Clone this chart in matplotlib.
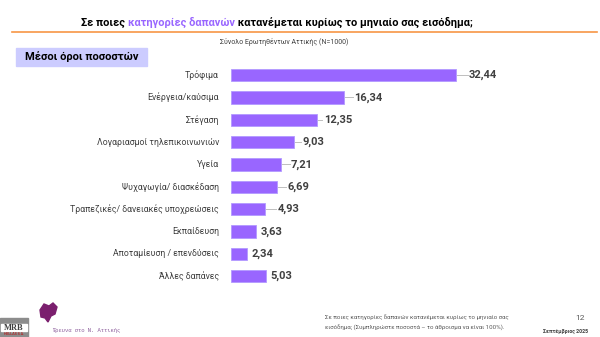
import matplotlib
matplotlib.use("Agg")
import matplotlib.pyplot as plt
from matplotlib.patches import Rectangle, Polygon

plt.rcParams['font.family'] = ['Roboto', 'DejaVu Sans']

categories = ['Τρόφιμα', 'Ενέργεια/καύσιμα', 'Στέγαση', 'Λογαριασμοί τηλεπικοινωνιών',
              'Υγεία', 'Ψυχαγωγία/ διασκέδαση', 'Τραπεζικές/ δανειακές υποχρεώσεις',
              'Εκπαίδευση', 'Αποταμίευση / επενδύσεις', 'Άλλες δαπάνες']
values = [32.44, 16.34, 12.35, 9.03, 7.21, 6.69, 4.93, 3.63, 2.34, 5.03]

# gap (px) between bar end and its label, as placed in the original slide
label_gap = [13, 10, 7, 9, 10, 10, 12, 4, 4, 4]

W, H = 600, 337
fig = plt.figure(figsize=(6, 3.37), dpi=100)

def fx(px):
    return px / W

def fy(py):
    return 1 - py / H

PURPLE = '#9966ff'
DARK = '#404040'

# bars
ax = fig.add_axes([fx(231), fy(287.3), fx(347), (287.3 - 64.0) / H])
y = list(range(len(values)))
ax.barh(y, values, height=0.55, color=PURPLE, edgecolor='#b399ff', linewidth=0.6)
ax.set_xlim(0, 50)
ax.set_ylim(len(values) - 0.5, -0.5)
ax.axis('off')

px_per_unit = 347 / 50
for i, v in enumerate(values):
    gap = label_gap[i] / px_per_unit
    ax.text(v + gap, i, f'{v:.2f}'.replace('.', ','), va='center', ha='left',
            fontsize=8, fontweight='bold', color=DARK)
    if label_gap[i] > 5:
        ax.plot([v + 0.15, v + gap - 0.2], [i, i], color='#bfbfbf', lw=0.7)
    ax.text(-12 / px_per_unit, i, categories[i], va='center', ha='right',
            fontsize=6.3, color=DARK)

# title in three colour runs
parts = [('Σε ποιες ', 'black'), ('κατηγορίες δαπανών', '#9966ff'),
         (' κατανέμεται κυρίως το μηνιαίο σας εισόδημα;', 'black')]
fig.canvas.draw()
r = fig.canvas.get_renderer()
x0 = fx(81)
for txt, col in parts:
    t = fig.text(x0, fy(22.7), txt, color=col, fontsize=7.95, fontweight='bold',
                 va='center', ha='left')
    bb = t.get_window_extent(renderer=r)
    x0 += bb.width / W
fig.add_artist(plt.Line2D([fx(12), fx(597)], [fy(32), fy(32)], color='#f79646', lw=1.2))

fig.text(fx(284.5), fy(42), 'Σύνολο Ερωτηθέντων Αττικής (N=1000)', fontsize=5.0,
         color=DARK, ha='center', va='center')

fig.add_artist(Rectangle((fx(16), fy(66)), fx(131), 18 / H, color='#ccccff',
                         transform=fig.transFigure))
fig.text(fx(81.5), fy(57), 'Μέσοι όροι ποσοστών', fontsize=8, fontweight='bold',
         color='black', ha='center', va='center')

# footer
fig.add_artist(Rectangle((fx(0), fy(337)), fx(28), 19 / H, color='#8c8c8c',
                         transform=fig.transFigure))
fig.add_artist(Rectangle((fx(1), fy(331)), fx(26), 7 / H, color='white',
                         transform=fig.transFigure))
fig.text(fx(14), fy(327.5), 'MRB', fontsize=6, fontweight='bold', color='#404040',
         family='Liberation Serif', ha='center', va='center')
fig.text(fx(14), fy(334), 'HELLAS S.A.', fontsize=2.6, color='#c00000',
         ha='center', va='center')
attica = [(40, 310), (44, 304), (49, 306), (53, 303), (57, 307), (55, 314),
          (51, 316), (48, 322), (45, 318), (41, 317)]
fig.add_artist(Polygon([(fx(a), fy(b)) for a, b in attica], closed=True,
                       color='#7b1f6e', transform=fig.transFigure))
fig.text(fx(52), fy(330.5), 'Έρευνα στο Ν. Αττικής', fontsize=4, color='#8a5a9a',
         family='Liberation Mono', ha='left', va='center')

fig.text(fx(325), fy(317), 'Σε ποιες κατηγορίες δαπανών κατανέμεται κυρίως το μηνιαίο σας',
         fontsize=4.4, color='#595959', ha='left', va='center')
fig.text(fx(325), fy(327), 'εισόδημα; (Συμπληρώστε ποσοστά – το άθροισμα να είναι 100%).',
         fontsize=4.4, color='#595959', ha='left', va='center')
fig.text(fx(580), fy(318), '12', fontsize=6, color='#595959', ha='center', va='center')
fig.text(fx(588), fy(331), 'Σεπτέμβριος 2025', fontsize=3.8, fontweight='bold',
         color='#404040', ha='right', va='center')

fig.savefig('out.png', dpi=100)
